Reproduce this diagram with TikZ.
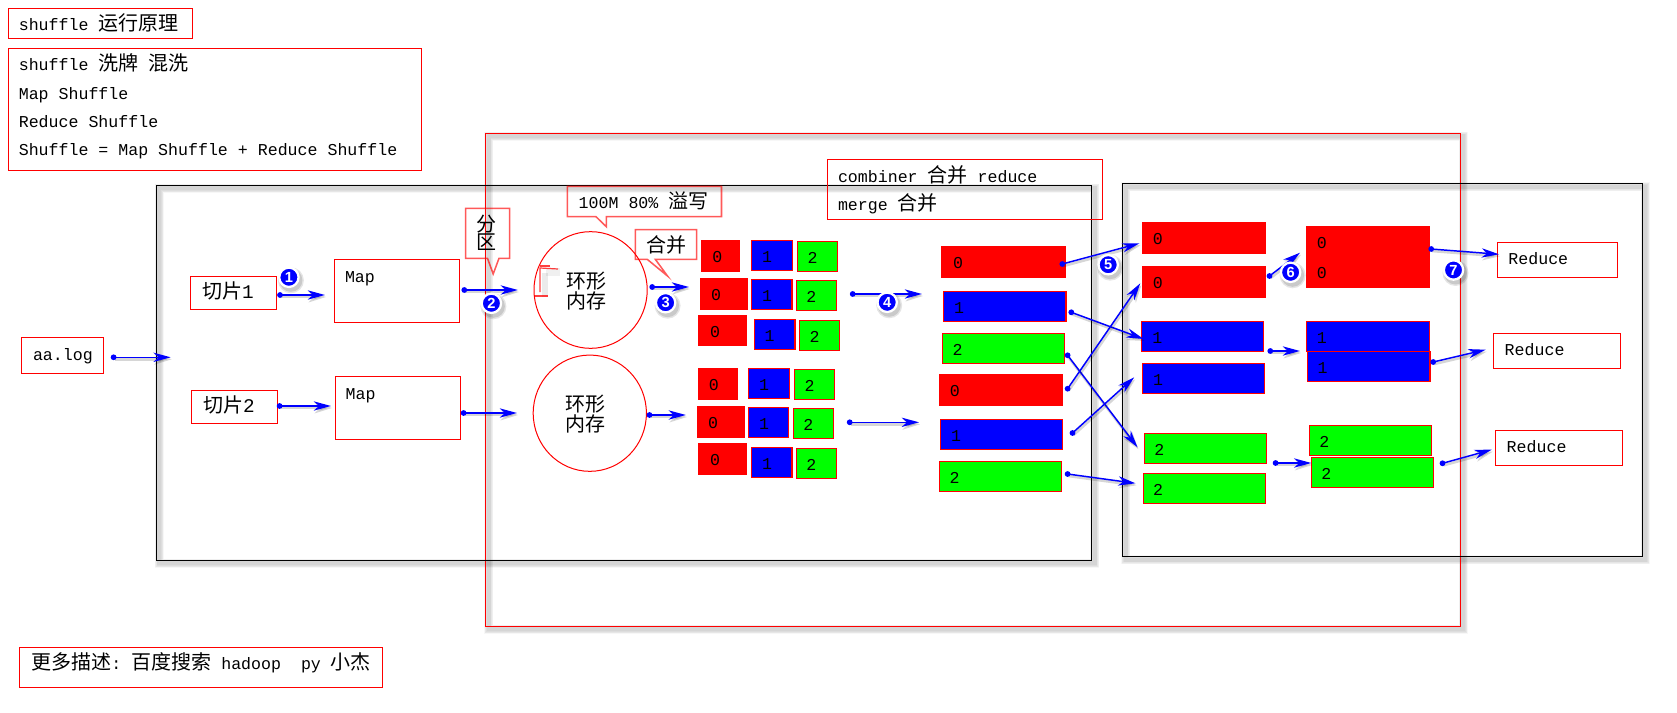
\documentclass[tikz,border=0pt]{standalone}
\usepackage{fontspec}
\usetikzlibrary{arrows.meta,shapes.geometric}
\setmainfont{Liberation Mono}
\newfontfamily\cjkf{Noto Sans CJK SC}
\newfontfamily\badgef{Liberation Sans}
\newcommand\cjk[1]{{\cjkf\fontsize{15pt}{15pt}\selectfont #1}}
\newcommand\bigd[1]{{\fontsize{14.5pt}{15pt}\selectfont #1}}
\tikzset{
  x=0.75pt,y=-0.75pt,
  redbox/.style={draw=red,line width=0.95pt,fill=none},
  blackbox/.style={draw=black,line width=0.95pt,fill=none},
  fillred/.style={draw=red,line width=0.7pt,fill=red},
  fillblue/.style={draw=red,line width=0.9pt,fill=blue},
  fillgreen/.style={draw=red,line width=0.9pt,fill=green},
  txt/.style={anchor=mid west,inner sep=0pt,outer sep=0pt,yshift=-1.5pt,font=\fontsize{12.45pt}{15pt}\selectfont,text=black},
  digit/.style={anchor=center,inner sep=0pt,outer sep=0pt,font=\fontsize{12.45pt}{15pt}\selectfont,text=black},
  cjktxt/.style={anchor=center,align=center,inner sep=0pt,outer sep=0pt,font=\cjkf\fontsize{15pt}{13.5pt}\selectfont,text=black},
  ring/.style={ellipse,draw=red,line width=0.75pt,inner sep=0pt,outer sep=0pt},
  callout/.style={draw=red,draw opacity=0.65,line width=1.15pt,line join=miter},
  flow/.style={draw=blue,line width=1.1pt,-{Stealth[length=13pt,width=7pt,inset=4pt]}},
  flowshadow/.style={draw=black,opacity=0.16,line width=2pt,-{Stealth[length=13pt,width=8pt,inset=4pt]}},
  badge/.style={circle,fill=blue,draw=white,line width=1.7pt,minimum size=14.5pt,inner sep=0pt,outer sep=0pt,text=white,font=\badgef\bfseries\fontsize{11pt}{11pt}\selectfont},
}
\newcommand\bx[6]{%
  \pgfmathsetmacro\bxcx{(#2+#4)/2}\pgfmathsetmacro\bxcy{(#3+#5)/2}%
  \pgfmathsetmacro\bxw{(#4-#2)*0.75}\pgfmathsetmacro\bxh{(#5-#3)*0.75}%
  \node[#6,minimum width=\bxw pt,minimum height=\bxh pt,inner sep=0pt,outer sep=0pt] (#1) at (\bxcx,\bxcy) {};}
\newcommand\cell[9]{\bx{#1}{#2}{#3}{#4}{#5}{#6}\node[digit] (#1-t) at (#7,#8) {#9};}
\newcommand\frameshadow[4]{%
  \foreach \lw/\op in {7/0.03,6/0.03,5/0.035,4/0.035,3/0.035}{%
    \draw[black,opacity=\op,line width=\lw pt] (#1+3,#2+3) rectangle (#3+3,#4+3);}}
\newcommand\arw[5]{%
  \coordinate (#1-s) at (#2,#3);\coordinate (#1-e) at (#4,#5);
  \draw[flowshadow] ([shift={(1,2)}]#1-s) -- ([shift={(1,2)}]#1-e);
  \fill[blue] (#1-s) circle (2.9);
  \draw[flow] (#1-s) -- (#1-e);}
\newcommand\bdg[4]{%
  \fill[black,opacity=0.10] (#2+2,#3+3) circle (13);
  \fill[black,opacity=0.12] (#2+2,#3+3) circle (11.5);
  \node[badge] (#1) at (#2,#3) {#4};}
\begin{document}
\begin{tikzpicture}
\useasboundingbox (0,0) rectangle (1677,713);
\fill[white] (0,0) rectangle (1677,713);
% frames
\frameshadow{485.7}{133.3}{1460.4}{626.3}
\frameshadow{156.4}{185.3}{1091.6}{560.3}
\frameshadow{1122.5}{183.7}{1642.4}{556.7}
\bx{shufflezone}{485.7}{133.3}{1460.4}{626.3}{redbox}
\bx{mapside}{156.4}{185.3}{1091.6}{560.3}{blackbox}
\bx{reduceside}{1122.5}{183.7}{1642.4}{556.7}{blackbox}
% note boxes
\bx{title}{8.2}{8.3}{192.5}{38.7}{redbox}
\node[txt] (titlet) at (18.8,25) {shuffle \cjk{运行原理}};
\bx{notes}{8.2}{48.3}{421.5}{170.3}{redbox}
\node[txt] (n1) at (18.8,65) {shuffle \cjk{洗牌} \cjk{混洗}};
\node[txt] (n2) at (18.8,94) {Map Shuffle};
\node[txt] (n3) at (18.8,121.7) {Reduce Shuffle};
\node[txt] (n4) at (18.8,149.7) {Shuffle = Map Shuffle + Reduce Shuffle};
\bx{combiner}{827.5}{159.4}{1102.6}{219.3}{redbox}
\node[txt] (c1) at (838,176.7) {combiner \cjk{合并} reduce};
\node[txt] (c2) at (838,204.7) {merge \cjk{合并}};
\bx{more}{19.3}{647.3}{382.5}{687.3}{redbox}
\node[txt] (moret) at (31.4,664) {\cjk{更多描述}:\hspace{7.5pt}\cjk{百度搜索} hadoop\ \ py \cjk{小杰}};
% inputs
\bx{aalog}{21.4}{337.3}{103.6}{373.3}{redbox}
\node[txt] (aat) at (33,355) {aa.log};
\bx{split1}{190.4}{276.3}{276.8}{309.7}{redbox}
\node[txt] (split1t) at (202,292.7) {\cjk{切片}\bigd{1}};
\bx{split2}{191.4}{390.3}{277.5}{423.7}{redbox}
\node[txt] (split2t) at (203,406.7) {\cjk{切片}\bigd{2}};
\bx{map1}{334.3}{259.3}{459.6}{322.7}{redbox}
\node[txt] (map1t) at (345,276.7) {Map};
\bx{map2}{335.4}{376.3}{460.7}{439.7}{redbox}
\node[txt] (map2t) at (345.7,394) {Map};
% callouts
\draw[callout] (465.7,208.3) -- (509.6,208.3) -- (509.6,258.3) -- (499,258.3) -- (493.2,274) -- (487.5,258.3) -- (465.7,258.3) -- cycle;
\node[cjktxt] (fenqu) at (486,233) {分\\区};
\draw[callout] (567.3,186.3) -- (721.5,186.3) -- (721.5,216.7) -- (606.3,216.7) -- (606.3,226.7) -- (596,216.7) -- (567.3,216.7) -- cycle;
\node[txt] (spill) at (578.7,202.7) {100M 80\% \cjk{溢写}};
\draw[callout] (635.4,229.7) -- (696.6,229.7) -- (696.6,259.3) -- (655.3,259.3) -- (667.5,276) -- (647.2,259.3) -- (635.4,259.3) -- cycle;
\node[cjktxt] (hebing) at (666.8,245.3) {合并};
% ring buffers
\node[ring,minimum width=84.9pt,minimum height=87.5pt] (ring1) at (590.6,290) {};
\node[ring,minimum width=84.9pt,minimum height=87.2pt] (ring2) at (589.8,413.2) {};
\node[cjktxt] (ring1t) at (586,291) {环形\\内存};
\node[cjktxt] (ring2t) at (585.2,414.3) {环形\\内存};
% stray bracket
\draw[black,opacity=0.08,line width=4pt] (545,273) -- (545,297);
\draw[black,opacity=0.06,line width=6pt] (546,272) -- (560,272);
\draw[red,opacity=0.75,line width=0.9pt] (540,292) -- (540,268) -- (558,269);
\draw[red,opacity=0.75,line width=0.9pt] (540,266) -- (550,266);
\draw[red,opacity=0.75,line width=0.9pt] (534,296) -- (548,296);
% spills
\cell{a1}{701.2}{240}{739.9}{271}{fillred}{717.3}{257.3}{0}
\cell{a2}{751.3}{240.3}{792.7}{270.7}{fillblue}{767}{257}{1}
\cell{a3}{797.3}{241.3}{837.8}{271.7}{fillgreen}{812.6}{258}{2}
\cell{b1}{700}{278}{747}{309}{fillred}{716.1}{295}{0}
\cell{b2}{751.3}{279.3}{791.9}{309.7}{fillblue}{767}{296}{1}
\cell{b3}{796.5}{280.3}{836.7}{310.7}{fillgreen}{811.4}{296.7}{2}
\cell{c1b}{698.9}{315}{746}{345.7}{fillred}{715}{332}{0}
\cell{c2b}{754.4}{319.3}{795}{349.7}{fillblue}{769.7}{336}{1}
\cell{c3b}{799.6}{320.3}{839.7}{350.7}{fillgreen}{814.5}{336.7}{2}
\cell{d1}{698.1}{368}{737.2}{399}{fillred}{713.8}{385}{0}
\cell{d2}{748.3}{368.3}{789.6}{398.7}{fillblue}{764}{385}{1}
\cell{d3}{794.6}{369.3}{834.8}{399.7}{fillgreen}{809.5}{386}{2}
\cell{e1}{697}{406}{744}{437}{fillred}{713}{423.3}{0}
\cell{e2}{748.3}{407.3}{788.8}{437.7}{fillblue}{764}{424}{1}
\cell{e3}{793.4}{408.3}{833.6}{438.7}{fillgreen}{808.4}{425}{2}
\cell{f1}{698.9}{443}{746}{474}{fillred}{715}{460}{0}
\cell{f2}{751.3}{447.3}{791.9}{477.7}{fillblue}{767}{464}{1}
\cell{f3}{796.5}{448.3}{836.7}{478.7}{fillgreen}{811.4}{464.7}{2}
% merged partitions
\cell{m1}{941.9}{246}{1065.1}{277}{fillred}{958}{263.3}{0}
\cell{m2}{943.4}{291.3}{1065.9}{321.7}{fillblue}{959.1}{308.3}{1}
\cell{m3}{942.3}{333.3}{1064.8}{363.7}{fillgreen}{957.6}{350.3}{2}
\cell{m4}{939.2}{374}{1062.1}{405}{fillred}{954.9}{391}{0}
\cell{m5}{940.4}{419.3}{1062.8}{449.7}{fillblue}{956}{436}{1}
\cell{m6}{939.2}{461.3}{1061.7}{491.7}{fillgreen}{954.5}{478}{2}
% reduce input
\cell{r1}{1142}{222}{1265}{253}{fillred}{1157.8}{239}{0}
\cell{r2}{1142}{266}{1265}{297}{fillred}{1157.8}{283.3}{0}
\cell{r3}{1141.6}{321.3}{1263.8}{351.7}{fillblue}{1157.4}{338.3}{1}
\cell{r4}{1142.4}{363.3}{1264.6}{393.7}{fillblue}{1158.2}{380}{1}
\cell{r5}{1144.4}{433.3}{1266.7}{463.7}{fillgreen}{1159.4}{450}{2}
\cell{r6}{1143.6}{473.3}{1265.8}{503.7}{fillgreen}{1158.2}{490}{2}
% reduce merged
\cell{s1}{1306}{226}{1429.1}{287}{fillred}{1321.9}{243}{0}
\node[digit] (s1-u) at (1321.9,272.7) {0};
\cell{s2}{1306.5}{321.3}{1429.1}{351.7}{fillblue}{1321.9}{338.3}{1}
\cell{s3}{1307.3}{351.3}{1430}{381.7}{fillblue}{1322.7}{368.3}{1}
\cell{s4}{1309.3}{425.3}{1431.6}{455.7}{fillgreen}{1324.3}{442}{2}
\cell{s5}{1311.3}{457.3}{1433.6}{487.7}{fillgreen}{1326.4}{474}{2}
% reducers
\bx{red1}{1497.4}{242.3}{1617.6}{277.7}{redbox}
\node[txt] (red1t) at (1508.4,259.3) {Reduce};
\bx{red2}{1493.3}{333.3}{1620.5}{368.7}{redbox}
\node[txt] (red2t) at (1504.7,350.3) {Reduce};
\bx{red3}{1495.4}{430.3}{1622.5}{465.7}{redbox}
\node[txt] (red3t) at (1506.7,447.3) {Reduce};
% arrows
\arw{fa}{113.6}{357.3}{170.7}{357.3}
\arw{fb}{280}{295}{325}{295}
\arw{fc}{279.6}{406}{331}{406}
\arw{fd}{464.3}{290}{517.9}{290}
\arw{fe}{463.6}{413}{517}{413}
\arw{ff}{652.2}{287}{689}{287}
\arw{fg}{649.5}{415}{685.9}{415}
\arw{fh}{852.7}{294}{922}{294}
\arw{fi}{849.7}{422.3}{919}{422.3}
\arw{fj}{1062.3}{264}{1139.5}{243.3}
\arw{fk}{1071.3}{312.3}{1143.6}{339}
\arw{fl}{1067.6}{355.3}{1137.5}{447.3}
\arw{fm}{1067.6}{388.7}{1140.3}{283.3}
\arw{fn}{1072.5}{433}{1134.2}{377.3}
\arw{fo}{1067.6}{474}{1135.5}{483.3}
\arw{fp}{1269.5}{276}{1300}{252.7}
\arw{fq}{1270.3}{351}{1300}{351}
\arw{fr}{1275.6}{463}{1311.3}{463}
\arw{fs}{1431.2}{249}{1499}{254.3}
\arw{ft}{1433.2}{362}{1485.6}{349.7}
\arw{fu}{1442.5}{463.3}{1491.7}{449.7}
% badges
\bdg{n1b}{288.9}{277.3}{1}
\bdg{n2b}{491.4}{303.3}{2}
\bdg{n3b}{665.6}{302.7}{3}
\bdg{n4b}{887.2}{302.3}{4}
\bdg{n5b}{1108.2}{264.7}{5}
\bdg{n6b}{1290.6}{272.3}{6}
\bdg{n7b}{1453.5}{270}{7}
\end{tikzpicture}
\end{document}
